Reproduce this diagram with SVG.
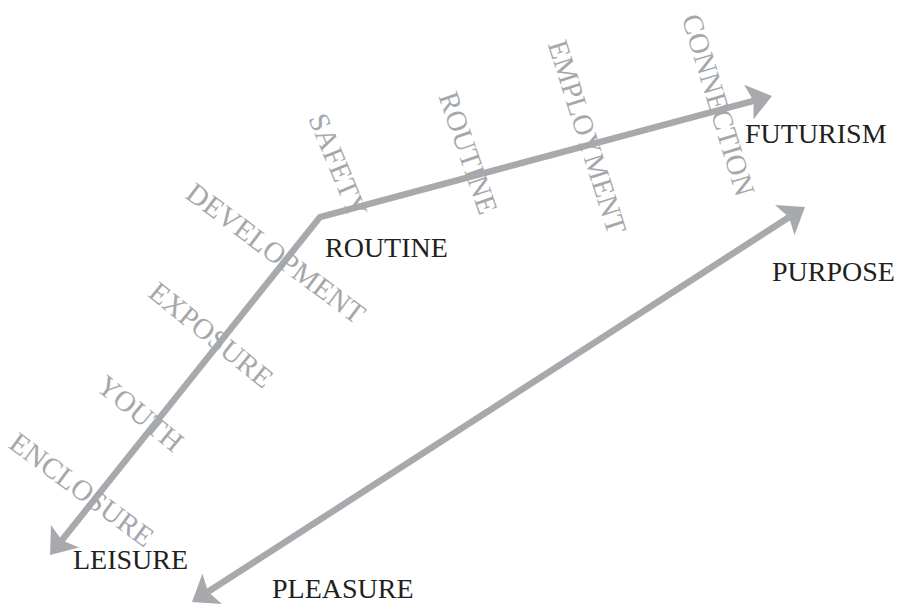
<svg xmlns="http://www.w3.org/2000/svg" width="902" height="608" viewBox="0 0 902 608">
<style>
.lbl{font-family:"Liberation Serif","Times New Roman",serif;font-size:28px;fill:#231f20}
.stage{font-family:"Liberation Serif","Times New Roman",serif;font-size:29px;fill:#a5a8ab;text-anchor:middle}
.conn{fill:none;stroke:#a7a9ac;stroke-width:6.5;stroke-linejoin:miter}
</style>
<defs>
<marker id="ah" markerUnits="userSpaceOnUse" viewBox="-1 -20 27 40" markerWidth="27" markerHeight="40" refX="5" refY="0" orient="auto-start-reverse">
<path d="M0,-18 L24,0 L0,18 L5,0 Z" fill="#a7a9ac"/>
</marker>
</defs>
<rect width="902" height="608" fill="#ffffff"/>
<g id="connectors">
<polyline class="conn" points="61.9,540.2 320,217 753.6,100.9" marker-start="url(#ah)" marker-end="url(#ah)"/>
<line class="conn" x1="208" y1="591.7" x2="789" y2="217.3" marker-start="url(#ah)" marker-end="url(#ah)"/>
</g>
<g id="stage-labels">
<text id="t-development" class="stage" transform="translate(270,261) rotate(36.7)">DEVELOPMENT</text>
<text id="t-exposure" class="stage" transform="translate(205,342.5) rotate(38.9)">EXPOSURE</text>
<text id="t-youth" class="stage" transform="translate(134,421) rotate(39.5)">YOUTH</text>
<text id="t-enclosure" class="stage" font-size="28" transform="translate(76,497.5) rotate(36.4)">ENCLOSURE</text>
<text id="t-safety" class="stage" transform="translate(329,169) rotate(67.4)">SAFETY</text>
<text id="t-routine2" class="stage" transform="translate(459,156.1) rotate(71)">ROUTINE</text>
<text id="t-employment" class="stage" transform="translate(578,139.9) rotate(72.4)">EMPLOYMENT</text>
<text id="t-connection" class="stage" transform="translate(709,107.8) rotate(73)">CONNECTION</text>
</g>
<g id="node-leisure"><text class="lbl" x="73" y="569">LEISURE</text></g>
<g id="node-routine"><text class="lbl" x="325" y="257">ROUTINE</text></g>
<g id="node-futurism"><text class="lbl" x="745" y="143">FUTURISM</text></g>
<g id="node-purpose"><text class="lbl" x="772" y="281">PURPOSE</text></g>
<g id="node-pleasure"><text class="lbl" x="272" y="598">PLEASURE</text></g>
</svg>
